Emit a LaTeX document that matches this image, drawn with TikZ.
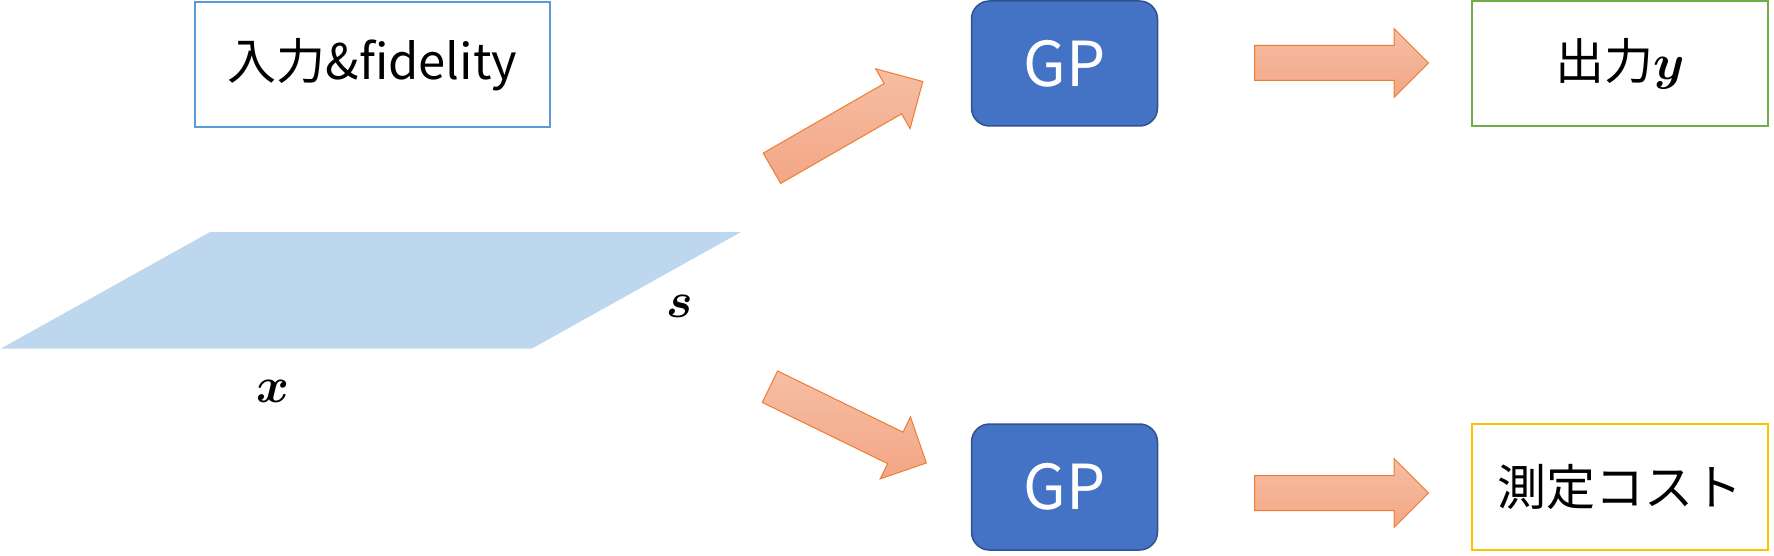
\documentclass[tikz,border=0pt]{standalone}
\usepackage{amsmath}
\usepackage{bm}
\usepackage{graphicx}
\usepackage{fontspec}
\newfontfamily\jp{Noto Sans CJK JP}
\usetikzlibrary{shapes.arrows}
\definecolor{inblue}{RGB}{91,155,213}
\definecolor{gpfill}{RGB}{68,114,196}
\definecolor{gpline}{RGB}{47,82,143}
\definecolor{outgreen}{RGB}{112,173,71}
\definecolor{costyellow}{RGB}{255,192,0}
\definecolor{planefill}{RGB}{189,215,238}
\definecolor{arrline}{RGB}{237,125,49}
\definecolor{arrtop}{RGB}{246,190,163}
\definecolor{arrbot}{RGB}{243,166,134}
\newcommand{\bigmath}[1]{{\fontsize{10}{12}\selectfont\scalebox{5}{$\bm{#1}$}}}
\tikzset{
  txtbox/.style={draw, line width=2pt, minimum width=#1, minimum height=125pt, inner sep=0pt,
    font=\jp\fontsize{49}{52}\selectfont},
  gpbox/.style={draw=gpline, fill=gpfill, line width=1.5pt, rounded corners=18pt,
    minimum width=186pt, minimum height=125pt, inner sep=0pt, text=white,
    font=\jp\fontsize{62}{64}\selectfont},
  blockarrow/.style={single arrow, anchor=tail, draw=arrline, line width=1pt, top color=arrtop, bottom color=arrbot,
    minimum height=174pt, single arrow head extend=17pt, inner xsep=0pt, inner ysep=17pt},
  mathlbl/.style={inner sep=0pt}
}
\begin{document}
\begin{tikzpicture}[x=1pt,y=-1pt]
\useasboundingbox (0,0) rectangle (1774,556);
% plane
\fill[planefill] (210,232) -- (741,232) -- (532,348.5) -- (1,348.5) -- cycle;
\node[mathlbl] (s) at (680,306) {\bigmath{s}};
\node[mathlbl] (x) at (273,391) {\bigmath{x}};
% boxes
\node[txtbox=355pt, draw=inblue] (in) at (372.5,64.5) {入力\&fidelity};
\node[gpbox] (gp1) at (1064.5,63.5) {GP};
\node[gpbox, minimum height=126pt] (gp2) at (1064.5,487) {GP};
\node[txtbox=296pt, draw=outgreen] (out) at (1620,63.5) {出力\bigmath{y}};
\node[txtbox=296pt, draw=costyellow, minimum height=126pt] (cost) at (1620,487) {測定コスト};
% block arrows
\node[blockarrow, rotate=29.9] (a1) at (771.5,168.5) {};
\node[blockarrow, rotate=-26] (a2) at (769.5,386.5) {};
\node[blockarrow] (a3) at (1254,63) {};
\node[blockarrow] (a4) at (1254,493) {};
\end{tikzpicture}
\end{document}
